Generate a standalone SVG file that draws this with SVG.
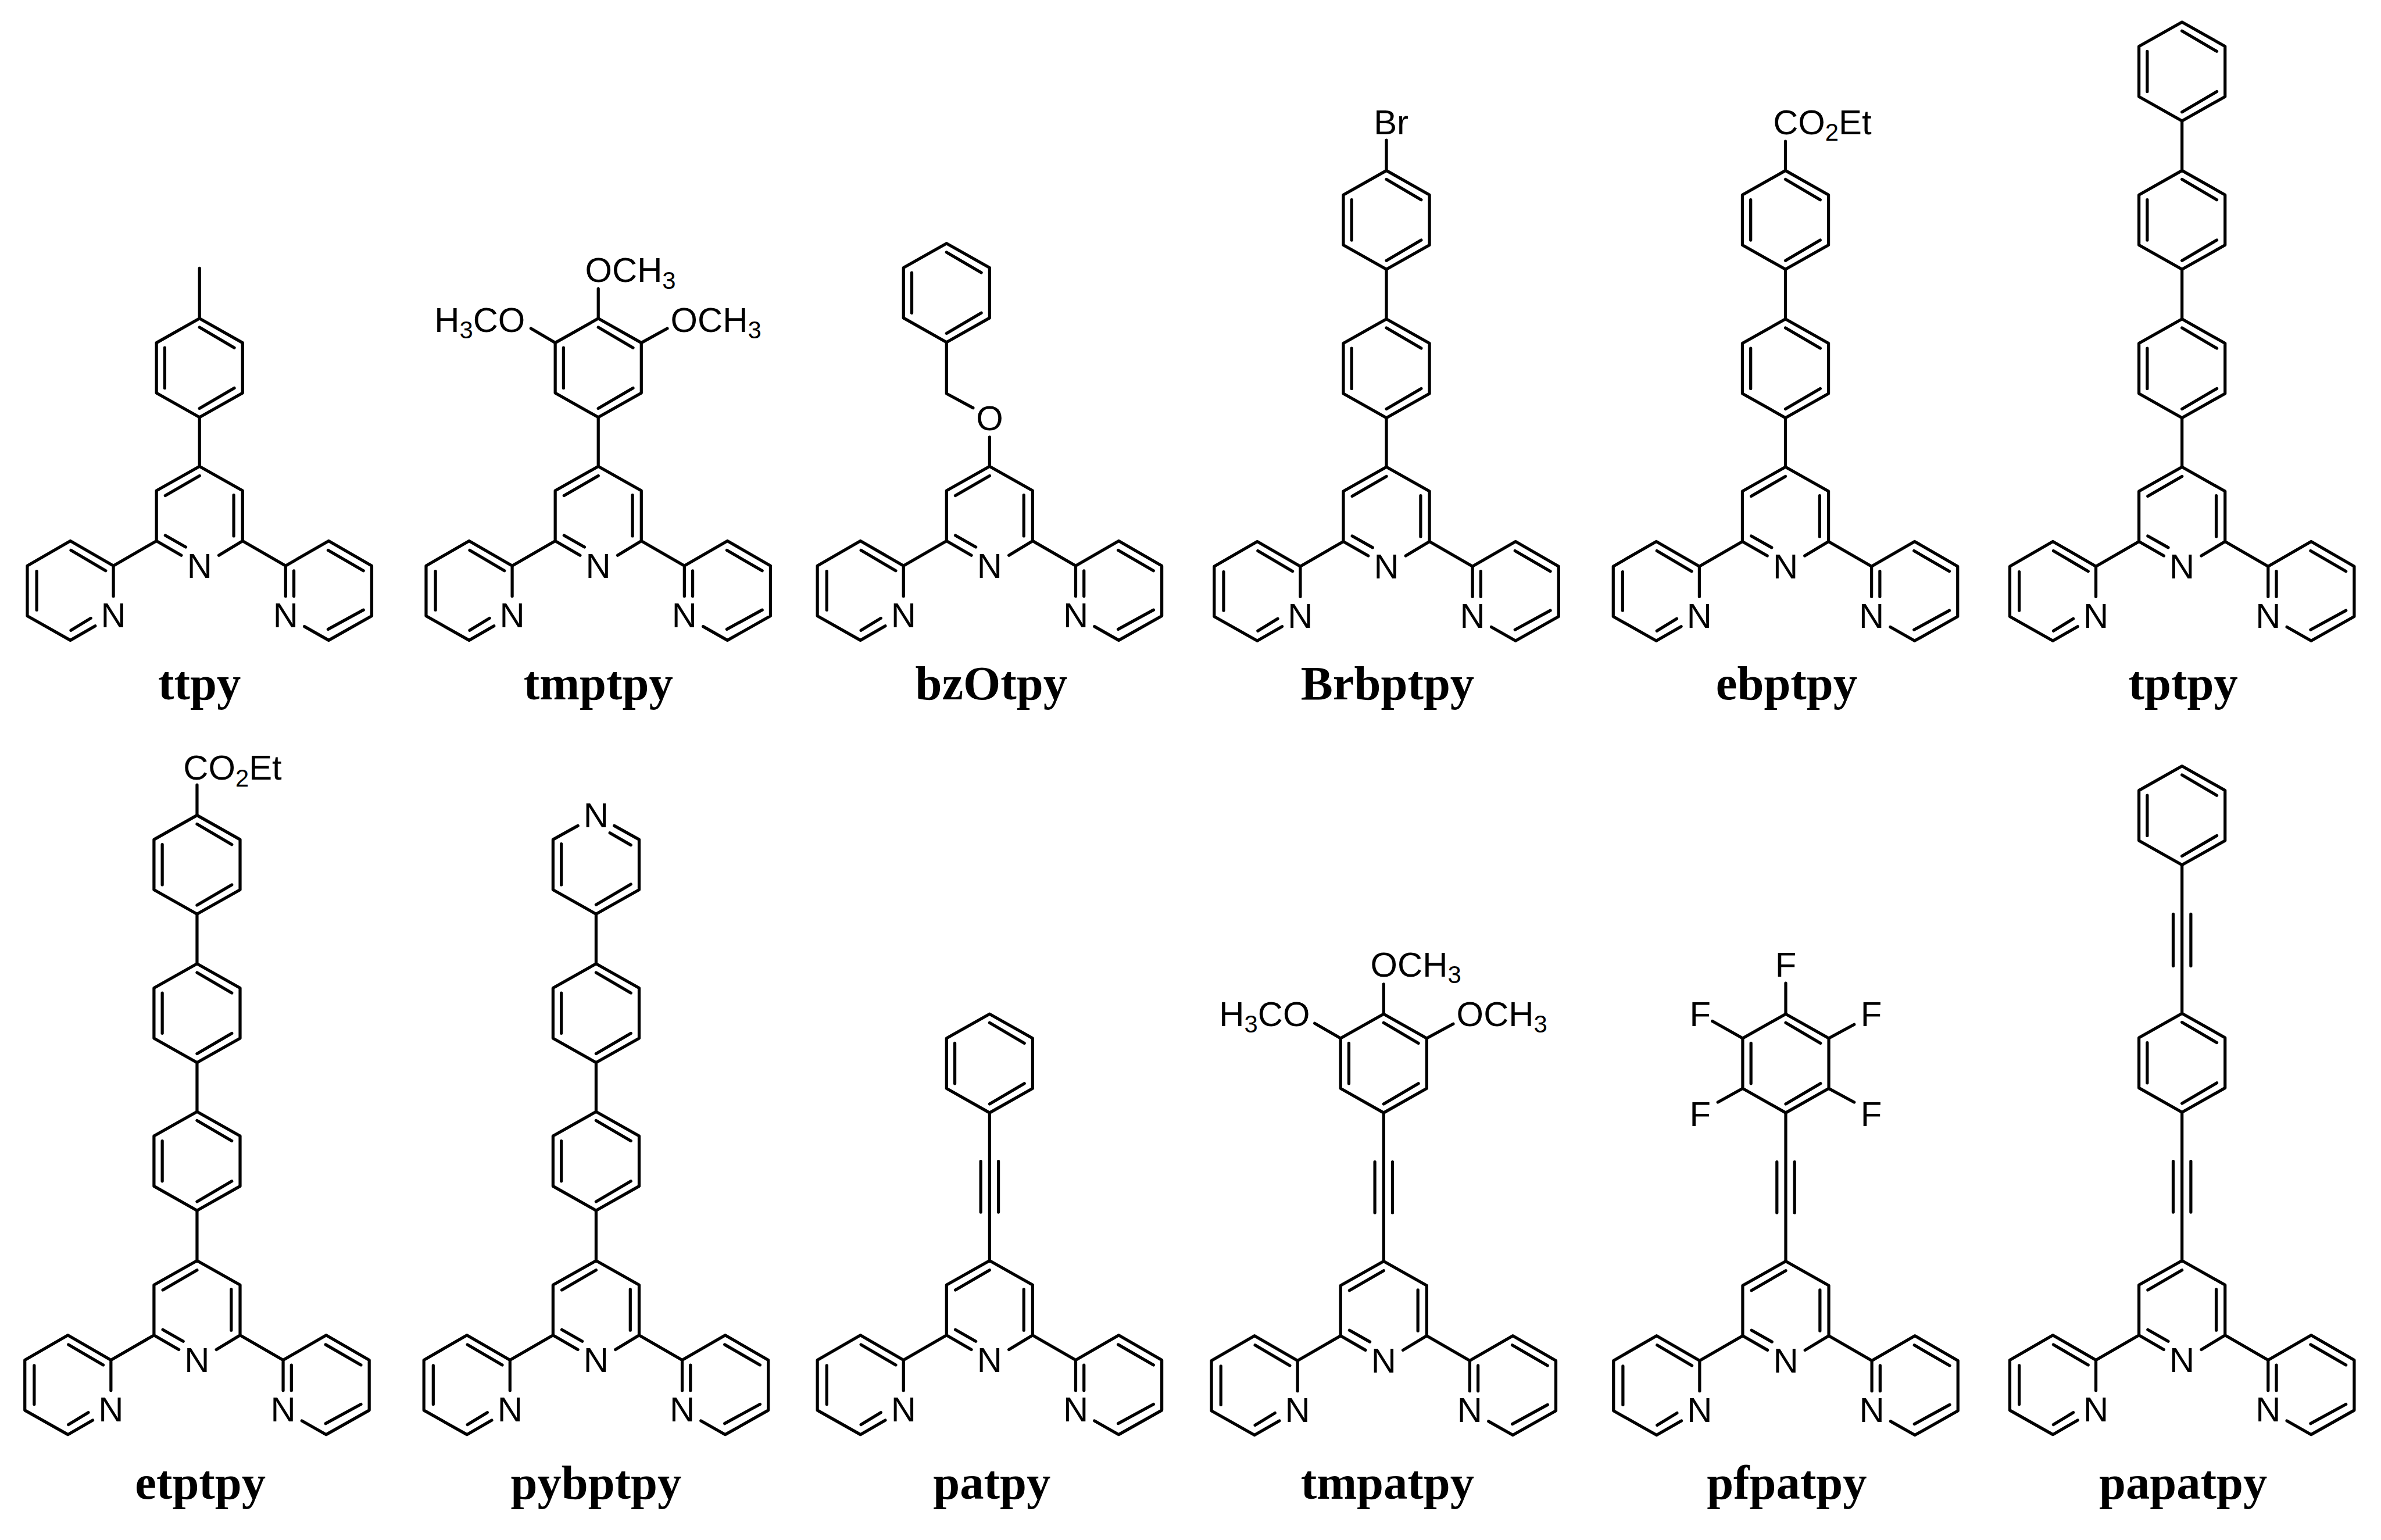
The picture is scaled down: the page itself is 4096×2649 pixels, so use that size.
<svg xmlns="http://www.w3.org/2000/svg" width="4096" height="2649" viewBox="0 0 4096 2649">
<style>
.b{fill:none;stroke:#000;stroke-width:5.5;stroke-linecap:round;stroke-linejoin:round}
.c{font-family:"Liberation Sans",Arial,sans-serif;font-size:63px;fill:#000}
.m{text-anchor:middle}
.s{font-size:44px}
.t{font-family:"Liberation Serif","Times New Roman",serif;font-size:87px;font-weight:bold;text-anchor:middle;fill:#000}
</style>
<defs>
<path id="tpy" class="b" d="M0 0L78 44V135L156 180L234 135L312 180V271L234 315L190 290M156 180V235M0 0L-78 44V135L-156 180L-234 135L-312 180V271L-234 315L-189 289M-156 180V235M-78 135L-33 161M78 135L35 161M0 17L-62 53M62 52V126M-62 125L-25 146M-170 189L-233 152M-295 190V260M-233 297L-197 275M171 189V235M233 152L297 189M297 260L233 295"/>
<path id="ph" class="b" d="M0 0L78 44V135L0 179L-78 135V44ZM0 16L63 53M-63 53V126M63 126L0 163"/>
<path id="py" class="b" d="M-33 19L-78 44V135L0 179L78 135V44L33 19M25 32L63 54M-63 52V126M63 125L0 162"/>
<path id="yne" class="b" d="M0 -268V0M-16 -180V-88M16 -180V-88"/>
</defs>
<rect width="4096" height="2649" fill="#fff"/>
<g transform="scale(0.94946)">

<g id="ttpy" transform="translate(361.5 845)">
<use href="#tpy"/><use href="#ph" y="-268"/>
<path class="b" d="M0 -359V-268M0 -89V0"/>
<text class="c m" x="0" y="202">N</text>
<text class="c m" x="-156" y="291">N</text>
<text class="c m" x="156" y="291">N</text>
<text class="t" y="422">ttpy</text>
</g>

<g id="tmptpy" transform="translate(1084 845)">
<use href="#tpy"/><use href="#ph" y="-268"/>
<path class="b" d="M0 -89V0M0 -322V-268M-122 -250L-78 -224M125 -250L78 -224"/>
<text class="c" x="-24" y="-334">OCH<tspan class="s" dy="12">3</tspan></text>
<text class="c" x="-297" y="-244">H<tspan class="s" dy="12">3</tspan><tspan dy="-12">CO</tspan></text>
<text class="c" x="131" y="-244">OCH<tspan class="s" dy="12">3</tspan></text>
<text class="c m" x="0" y="202">N</text>
<text class="c m" x="-156" y="291">N</text>
<text class="c m" x="156" y="291">N</text>
<text class="t" y="422">tmptpy</text>
</g>

<g id="bzOtpy" transform="translate(1793 845)">
<use href="#tpy"/><use href="#ph" x="-78" y="-404"/>
<path class="b" d="M0 -53V0M-78 -225V-132L-30 -106"/>
<text class="c m" x="0" y="-66">O</text>
<text class="c m" x="0" y="202">N</text>
<text class="c m" x="-156" y="291">N</text>
<text class="c m" x="156" y="291">N</text>
<text class="t" x="3" y="422">bzOtpy</text>
</g>

<g id="Brbptpy" transform="translate(2512 846)">
<use href="#tpy"/><use href="#ph" y="-268"/><use href="#ph" y="-537"/>
<path class="b" d="M0 -89V0M0 -358V-268M0 -592V-537"/>
<text class="c" x="-23" y="-603">Br</text>
<text class="c m" x="0" y="202">N</text>
<text class="c m" x="-156" y="291">N</text>
<text class="c m" x="156" y="291">N</text>
<text class="t" x="2" y="421">Brbptpy</text>
</g>

<g id="ebptpy" transform="translate(3235 846)">
<use href="#tpy"/><use href="#ph" y="-268"/><use href="#ph" y="-537"/>
<path class="b" d="M0 -89V0M0 -358V-268M0 -590V-537"/>
<text class="c" x="-22.5" y="-603">CO<tspan class="s" dy="12">2</tspan><tspan dy="-12">Et</tspan></text>
<text class="c m" x="0" y="202">N</text>
<text class="c m" x="-156" y="291">N</text>
<text class="c m" x="156" y="291">N</text>
<text class="t" x="2" y="421">ebptpy</text>
</g>

<g id="tptpy" transform="translate(3953.5 846)">
<use href="#tpy"/><use href="#ph" y="-268"/><use href="#ph" y="-537"/><use href="#ph" y="-806"/>
<path class="b" d="M0 -89V0M0 -358V-268M0 -627V-537"/>
<text class="c m" x="0" y="202">N</text>
<text class="c m" x="-156" y="291">N</text>
<text class="c m" x="156" y="291">N</text>
<text class="t" x="2" y="421">tptpy</text>
</g>

<g id="etptpy" transform="translate(357 2284)">
<use href="#tpy"/><use href="#ph" y="-270"/><use href="#ph" y="-538"/><use href="#ph" y="-807"/>
<path class="b" d="M0 -91V0M0 -359V-270M0 -628V-538M0 -862V-807"/>
<text class="c" x="-25" y="-871.5">CO<tspan class="s" dy="12">2</tspan><tspan dy="-12">Et</tspan></text>
<text class="c m" x="0" y="202">N</text>
<text class="c m" x="-156" y="291">N</text>
<text class="c m" x="156" y="291">N</text>
<text class="t" x="6" y="431">etptpy</text>
</g>

<g id="pybptpy" transform="translate(1080 2284)">
<use href="#tpy"/><use href="#ph" y="-270"/><use href="#ph" y="-538"/><use href="#py" y="-807"/>
<path class="b" d="M0 -91V0M0 -359V-270M0 -628V-538"/>
<text class="c m" x="0" y="-785">N</text>
<text class="c m" x="0" y="202">N</text>
<text class="c m" x="-156" y="291">N</text>
<text class="c m" x="156" y="291">N</text>
<text class="t" y="431">pybptpy</text>
</g>

<g id="patpy" transform="translate(1793 2284)">
<use href="#tpy"/><use href="#ph" y="-447"/><use href="#yne"/>
<text class="c m" x="0" y="202">N</text>
<text class="c m" x="-156" y="291">N</text>
<text class="c m" x="156" y="291">N</text>
<text class="t" x="4" y="431">patpy</text>
</g>

<g id="tmpatpy" transform="translate(2507 2285)">
<use href="#tpy"/><use href="#ph" y="-448"/><use href="#yne"/>
<path class="b" d="M0 -502V-448M-125 -431L-78 -404M126 -430L78 -404"/>
<text class="c" x="-24" y="-516">OCH<tspan class="s" dy="12">3</tspan></text>
<text class="c" x="-298" y="-426">H<tspan class="s" dy="12">3</tspan><tspan dy="-12">CO</tspan></text>
<text class="c" x="132" y="-426">OCH<tspan class="s" dy="12">3</tspan></text>
<text class="c m" x="0" y="202">N</text>
<text class="c m" x="-156" y="291">N</text>
<text class="c m" x="156" y="291">N</text>
<text class="t" x="7" y="430">tmpatpy</text>
</g>

<g id="pfpatpy" transform="translate(3235.5 2285)">
<use href="#tpy"/><use href="#ph" y="-448"/><use href="#yne"/>
<path class="b" d="M0 -504V-448M-133 -435L-78 -404M124 -429L78 -404M-123 -288L-78 -313M124 -288L78 -313"/>
<text class="c m" x="0" y="-516">F</text>
<text class="c m" x="-155" y="-426">F</text>
<text class="c m" x="155" y="-426">F</text>
<text class="c m" x="-155" y="-245">F</text>
<text class="c m" x="155" y="-245">F</text>
<text class="c m" x="0" y="202">N</text>
<text class="c m" x="-156" y="291">N</text>
<text class="c m" x="156" y="291">N</text>
<text class="t" x="2" y="430">pfpatpy</text>
</g>

<g id="papatpy" transform="translate(3953.5 2284)">
<use href="#tpy"/><use href="#ph" y="-448"/><use href="#yne"/><use href="#ph" y="-896"/>
<path class="b" d="M0 -717V-448M-16 -628V-534M16 -628V-534"/>
<text class="c m" x="0" y="202">N</text>
<text class="c m" x="-156" y="291">N</text>
<text class="c m" x="156" y="291">N</text>
<text class="t" x="2" y="431">papatpy</text>
</g>

</g>
</svg>
